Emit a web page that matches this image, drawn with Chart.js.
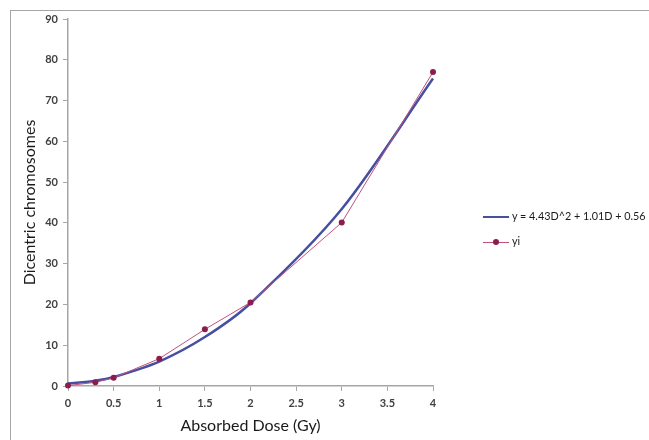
<!DOCTYPE html>
<html>
<head>
<meta charset="utf-8">
<script src="https://cdn.jsdelivr.net/npm/chart.js@4.4.0/dist/chart.umd.min.js"></script>
<style>
  html, body { margin: 0; padding: 0; background: #fff; overflow: hidden; }
  #wrap { position: relative; width: 649px; height: 440px; }
  #frame { position: absolute; left: 10px; top: 10px; width: 700px; height: 500px; border: 1px solid #a6a6a6; box-sizing: border-box; }
  #chart { position: absolute; left: 0; top: 0; }
  .leg { position: absolute; left: 483px; font: 10.8px Lato, sans-serif; color: #1a1a1a; white-space: nowrap; }
  .leg .sw { display: inline-block; position: relative; width: 26px; height: 10px; vertical-align: middle; margin-right: 3px; }
  .leg .sw i { position: absolute; left: 0; right: 0; top: 50%; }
  .leg .sw b { position: absolute; left: 10px; top: 2px; width: 6px; height: 6px; border-radius: 50%; background: #8b1c4c; }
</style>
</head>
<body>
<div id="wrap">
  <div id="frame"></div>
  <canvas id="chart" width="649" height="440"></canvas>
  <div class="leg" style="top:209px"><span class="sw"><i style="border-top:2.5px solid #4650a0;margin-top:-1px"></i></span>y = 4.43D^2 + 1.01D + 0.56</div>
  <div class="leg" style="top:234px"><span class="sw"><i style="border-top:1px solid #b8507a"></i><b></b></span>yi</div>
</div>
<script>
// dose values (Gy)
const doses = [0, 0.3, 0.5, 1, 1.5, 2, 3, 4];
// observed dicentrics
const observed = [0.1, 0.9, 2.0, 6.7, 13.9, 20.5, 40.1, 77.0];
// fitted curve
const fitted = [0.6, 1.3, 2.2, 6.0, 12.0, 20.3, 43.4, 75.4];

const xTicks = [0, 0.5, 1, 1.5, 2, 2.5, 3, 3.5, 4];
const yTicks = [0, 10, 20, 30, 40, 50, 60, 70, 80, 90];

const axisColor = '#a6a6a6';
const tickFont = { family: 'Lato', size: 11, weight: 'bold' };
const titleFont = { family: 'Lato', size: 16 };

const ctx = document.getElementById('chart').getContext('2d');
new Chart(ctx, {
  type: 'line',
  data: {
    datasets: [
      {
        label: 'y = 4.43D^2 + 1.01D + 0.56',
        data: doses.map((d, i) => ({ x: d, y: fitted[i] })),
        borderColor: '#4650a0',
        borderWidth: 2.5,
        pointRadius: 0,
        tension: 0.3,
        clip: false,
        order: 1,
      },
      {
        label: 'yi',
        data: doses.map((d, i) => ({ x: d, y: observed[i] })),
        borderColor: '#c0507e',
        borderWidth: 1,
        pointRadius: 3,
        pointBackgroundColor: '#8b1c4c',
        pointBorderColor: '#8b1c4c',
        pointBorderWidth: 0,
        tension: 0,
        clip: false,
        order: 0,
      },
    ],
  },
  options: {
    responsive: false,
    animation: false,
    layout: { padding: { left: 0, top: 19, right: 216, bottom: 5 } },
    plugins: { legend: { display: false }, tooltip: { enabled: false } },
    scales: {
      x: {
        type: 'linear',
        min: 0,
        max: 4,
        afterBuildTicks: (s) => { s.ticks = xTicks.map((v) => ({ value: v })); },
        afterFit: (s) => { s.height = 49; },
        border: { color: axisColor, width: 1.5 },
        grid: { drawOnChartArea: false, color: axisColor, tickLength: 5 },
        ticks: { font: tickFont, color: '#404040', padding: 6, maxRotation: 0, callback: (v) => String(v) },
        title: { display: true, text: 'Absorbed Dose (Gy)', font: titleFont, color: '#1a1a1a', padding: { top: 0, bottom: 0 } },
      },
      y: {
        min: 0,
        max: 90,
        afterBuildTicks: (s) => { s.ticks = yTicks.map((v) => ({ value: v })); },
        afterFit: (s) => { s.width = 68; },
        border: { color: axisColor, width: 1.5 },
        grid: { drawOnChartArea: false, color: axisColor, tickLength: 5 },
        ticks: { font: tickFont, color: '#404040', padding: 5, callback: (v) => String(v) },
        title: { display: true, text: 'Dicentric chromosomes', font: titleFont, color: '#1a1a1a', padding: { top: 20, bottom: 0 } },
      },
    },
  },
});
</script>
</body>
</html>
